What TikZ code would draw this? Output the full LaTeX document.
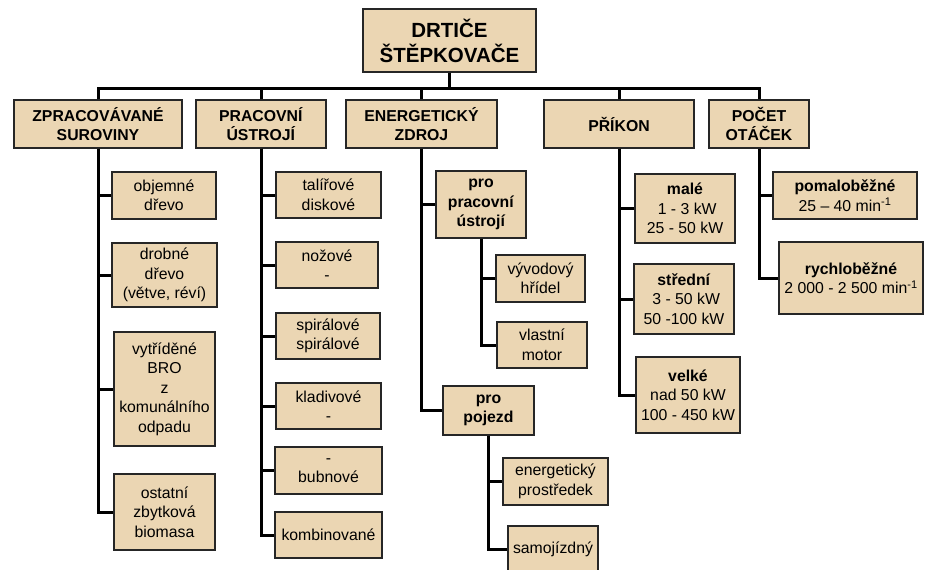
\documentclass[tikz,border=0pt]{standalone}
\usepackage{fontspec}
\setmainfont{Liberation Sans}
\definecolor{boxfill}{RGB}{235,214,179}
\begin{document}
\begin{tikzpicture}[x=1pt,y=-1pt,
  tbox/.style={draw=black!85, line width=1.1pt, fill=boxfill, align=center, inner sep=0pt,
    font=\fontsize{15.8}{19.5}\selectfont},
  conn/.style={line width=3pt, black}]
\useasboundingbox (0,0) rectangle (930,570);
\newcommand\bx[6]{\node[tbox, minimum width=#4pt, minimum height=#5pt] (#1) at (#2,#3) {#6};}
% top
\node[tbox, minimum width=173pt, minimum height=63pt, font=\fontsize{20.5}{25}\selectfont\bfseries] (top) at (449.5,40.5) {DRTIČE\\ŠTĚPKOVAČE};
% level 1
\bx{c1}{98}{124}{168}{48}{\textbf{ZPRACOVÁVANÉ}\\\textbf{SUROVINY}}
\bx{c2}{261}{124}{130}{48}{\textbf{PRACOVNÍ}\\\textbf{ÚSTROJÍ}}
\bx{c3}{421.5}{124}{151}{48}{\textbf{ENERGETICKÝ}\\\textbf{ZDROJ}}
\bx{c4}{619}{124}{150}{48}{\textbf{PŘÍKON}}
\bx{c5}{759}{124}{100}{48}{\textbf{POČET}\\\textbf{OTÁČEK}}
% column 1
\bx{c1a}{164}{195.5}{104}{47}{objemné\\dřevo}
\bx{c1b}{164.5}{275}{105}{64}{drobné\\dřevo\\(větve, réví)}
\bx{c1c}{164.5}{389}{101}{114}{vytříděné\\BRO\\z\\komunálního\\odpadu}
\bx{c1d}{164.5}{512}{101}{76}{ostatní\\zbytková\\biomasa}
% column 2
\bx{c2a}{328.5}{195}{105}{46}{talířové\\diskové}
\bx{c2b}{327}{265}{102}{46}{nožové\\-}
\bx{c2c}{328}{336}{104}{46}{spirálové\\spirálové}
\bx{c2d}{328.5}{406}{105}{46}{kladivové\\-}
\bx{c2e}{328.5}{470.5}{107}{47}{-\\bubnové}
\bx{c2f}{328.5}{535}{107}{46}{kombinované}
% column 3
\bx{c3a}{481}{204.5}{90}{67}{\textbf{pro}\\\textbf{pracovní}\\\textbf{ústrojí}}
\bx{c3aa}{540.5}{278.5}{89}{47}{vývodový\\hřídel}
\bx{c3ab}{542}{345}{90}{46}{vlastní\\motor}
\bx{c3b}{488.5}{410.5}{91}{49}{\textbf{pro}\\\textbf{pojezd}}
\bx{c3ba}{555.5}{481.5}{105}{47}{energetický\\prostředek}
\bx{c3bb}{553}{549}{90}{46}{samojízdný}
% column 4
\bx{c4a}{685}{208.5}{100}{69}{\textbf{malé}\\\ 1 - 3 kW\\25 - 50 kW}
\bx{c4b}{684}{299}{100}{70}{\textbf{střední}\\\ 3 - 50 kW\\50 -100 kW}
\bx{c4c}{688}{395}{104}{76}{\textbf{velké}\\nad 50 kW\\100 - 450 kW}
% column 5
\bx{c5a}{845}{195.5}{144}{47}{\textbf{pomaloběžné}\\25 – 40 min\textsuperscript{-1}}
\bx{c5b}{851}{278}{144}{72}{\textbf{rychloběžné}\\2 000 - 2 500 min\textsuperscript{-1}}
% bus
\coordinate (j) at (449.5,88);
\draw[conn] (top.south) -- (top.south |- j);
\draw[conn] (c1.north) -- (c1.north |- j) -- (c5.north |- j) -- (c5.north);
\draw[conn] (c2.north) -- (c2.north |- j);
\draw[conn] (c3.north) -- (c3.north |- j);
\draw[conn] (c4.north) -- (c4.north |- j);
% column connectors
\foreach \p/\c in {c1/c1a,c1/c1b,c1/c1c,c1/c1d,
                   c2/c2a,c2/c2b,c2/c2c,c2/c2d,c2/c2e,c2/c2f,
                   c3/c3a,c3/c3b,c3a/c3aa,c3a/c3ab,c3b/c3ba,c3b/c3bb,
                   c4/c4a,c4/c4b,c4/c4c,c5/c5a,c5/c5b}
  \draw[conn] (\p.south) |- (\c.west);
\end{tikzpicture}
\end{document}
